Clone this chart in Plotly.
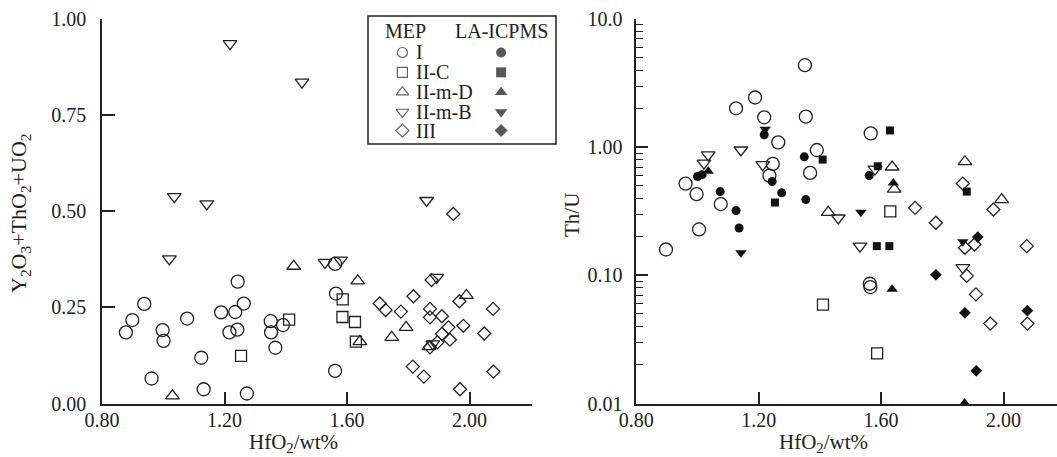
import plotly.graph_objects as go

# ---------------- data: left panel (Y2O3+ThO2+UO2, MEP) ----------------
L_I_hf = [0.878, 0.899, 0.938, 0.962, 0.998, 1.001, 1.078, 1.124, 1.132, 1.189, 1.216, 1.235,
          1.242, 1.243, 1.263, 1.273, 1.351, 1.352, 1.366, 1.391, 1.561, 1.564, 1.561]
L_I_y = [0.185, 0.217, 0.259, 0.065, 0.191, 0.163, 0.221, 0.119, 0.037, 0.237, 0.185, 0.238,
         0.192, 0.317, 0.260, 0.026, 0.214, 0.185, 0.145, 0.204, 0.363, 0.286, 0.085]
L_IIC_hf = [1.254, 1.411, 1.586, 1.585, 1.626, 1.629]
L_IIC_y = [0.124, 0.218, 0.271, 0.225, 0.212, 0.161]
L_IImD_hf = [1.030, 1.426, 1.635, 1.642, 1.746, 1.793, 1.990, 1.868]
L_IImD_y = [0.020, 0.357, 0.319, 0.161, 0.172, 0.198, 0.281, 0.148]
L_IImB_hf = [1.218, 1.453, 1.036, 1.142, 1.860, 1.020, 1.528, 1.579, 1.893, 1.880]
L_IImB_y = [0.936, 0.836, 0.538, 0.519, 0.528, 0.376, 0.367, 0.373, 0.328, 0.155]
L_III_hf = [1.707, 1.726, 1.776, 1.817, 1.815, 1.851, 1.871, 1.871, 1.876, 1.871, 1.910,
            1.910, 1.931, 1.936, 1.969, 1.967, 1.980, 2.048, 2.077, 2.078, 1.947, 1.895]
L_III_y = [0.260, 0.243, 0.239, 0.279, 0.096, 0.070, 0.246, 0.224, 0.321, 0.146, 0.227,
           0.181, 0.198, 0.166, 0.037, 0.266, 0.202, 0.182, 0.246, 0.083, 0.493, 0.159]

# ---------------- data: right panel (Th/U) ----------------
R_I_hf = [1.351, 1.188, 1.126, 1.218, 1.354, 1.264, 1.390, 1.246, 1.235, 1.368, 0.961, 0.997,
          1.076, 0.897, 1.005, 1.566, 1.563, 1.565]
R_I_th = [4.36, 2.44, 2.01, 1.71, 1.73, 1.09, 0.95, 0.74, 0.60, 0.63, 0.52, 0.43,
          0.36, 0.159, 0.228, 1.28, 0.086, 0.081]
R_Ila_hf = [1.218, 1.000, 1.015, 1.074, 1.126, 1.244, 1.275, 1.349, 1.354, 1.136, 1.561]
R_Ila_th = [1.25, 0.59, 0.61, 0.45, 0.32, 0.54, 0.44, 0.84, 0.39, 0.234, 0.60]
R_IIC_hf = [1.630, 1.410, 1.587]
R_IIC_th = [0.316, 0.059, 0.0246]
R_IICla_hf = [1.409, 1.253, 1.629, 1.589, 1.586, 1.627, 1.880]
R_IICla_th = [0.80, 0.37, 1.35, 0.71, 0.169, 0.169, 0.45]
R_IImD_hf = [1.636, 1.643, 1.874, 1.994, 1.427]
R_IImD_th = [0.70, 0.47, 0.77, 0.39, 0.31]
R_IImDla_hf = [1.640, 1.636, 1.873, 1.035]
R_IImDla_th = [0.525, 0.078, 0.0101, 0.65]
R_IImB_hf = [1.035, 1.021, 1.142, 1.213, 1.460, 1.531, 1.867, 1.580]
R_IImB_th = [0.87, 0.75, 0.95, 0.73, 0.28, 0.169, 0.115, 0.675]
R_IImBla_hf = [1.221, 1.142, 1.534, 1.867]
R_IImBla_th = [1.38, 0.150, 0.31, 0.183]
R_III_hf = [1.711, 1.779, 1.867, 1.967, 1.905, 1.874, 2.076, 1.880, 1.910, 1.957, 2.078]
R_III_th = [0.336, 0.257, 0.52, 0.326, 0.174, 0.164, 0.169, 0.099, 0.071, 0.042, 0.042]
R_IIIla_hf = [1.916, 1.779, 1.874, 2.078, 1.911]
R_IIIla_th = [0.199, 0.101, 0.051, 0.053, 0.018]

x_ticks = [0.80, 1.20, 1.60, 2.00]
x_ticktext = ["0.80", "1.20", "1.60", "2.00"]
yl_ticks = [0.0, 0.25, 0.50, 0.75, 1.00]
yl_ticktext = ["0.00", "0.25", "0.50", "0.75", "1.00"]
yr_ticks = [0.01, 0.1, 1, 10]
yr_ticktext = ["0.01", "0.10", "1.00", "10.0"]

group_names = ["I", "II-C", "II-m-D", "II-m-B", "III"]
open_symbols = ["circle-open", "square-open", "triangle-up-open", "triangle-down-open", "diamond-open"]
filled_symbols = ["circle", "square", "triangle-up", "triangle-down", "diamond"]
open_sizes = [13, 11, 12, 12, 10]
filled_sizes = [9, 8, 10, 10, 9]

INK = "#222222"
FONT = "Liberation Serif"
W, H = 1057, 457

left_sets = [(L_I_hf, L_I_y), (L_IIC_hf, L_IIC_y), (L_IImD_hf, L_IImD_y),
             (L_IImB_hf, L_IImB_y), (L_III_hf, L_III_y)]
right_open = [(R_I_hf, R_I_th), (R_IIC_hf, R_IIC_th), (R_IImD_hf, R_IImD_th),
              (R_IImB_hf, R_IImB_th), (R_III_hf, R_III_th)]
right_filled = [(R_Ila_hf, R_Ila_th), (R_IICla_hf, R_IICla_th), (R_IImDla_hf, R_IImDla_th),
                (R_IImBla_hf, R_IImBla_th), (R_IIIla_hf, R_IIIla_th)]

fig = go.Figure()

for i, (xs, ys) in enumerate(left_sets):
    fig.add_trace(go.Scatter(x=xs, y=ys, mode="markers", xaxis="x", yaxis="y",
                             cliponaxis=False, showlegend=False,
                             marker=dict(symbol=open_symbols[i], size=open_sizes[i],
                                         color=INK, line=dict(width=1.3, color=INK))))
for i, (xs, ys) in enumerate(right_open):
    fig.add_trace(go.Scatter(x=xs, y=ys, mode="markers", xaxis="x2", yaxis="y2",
                             cliponaxis=False, showlegend=False,
                             marker=dict(symbol=open_symbols[i], size=open_sizes[i],
                                         color=INK, line=dict(width=1.3, color=INK))))
for i, (xs, ys) in enumerate(right_filled):
    fig.add_trace(go.Scatter(x=xs, y=ys, mode="markers", xaxis="x2", yaxis="y2",
                             cliponaxis=False, showlegend=False,
                             marker=dict(symbol=filled_symbols[i], size=filled_sizes[i],
                                         color="#111111", line=dict(width=0))))

# ---------------- custom legend (box in pixels) ----------------
bx0, bx1, by0, by1 = 368, 556, 16, 144
leg_dom_x = [bx0 / W, bx1 / W]
leg_dom_y = [(H - by1) / H, (H - by0) / H]
row_pos = [0.285, 0.44, 0.595, 0.75, 0.895]
open_x, label_x, filled_x = 0.183, 0.245, 0.708

fig.add_trace(go.Scatter(x=[open_x] * 5, y=row_pos, mode="markers", xaxis="x3", yaxis="y3",
                         cliponaxis=False, showlegend=False,
                         marker=dict(symbol=open_symbols, size=[10, 10, 11, 11, 10], color=INK,
                                     line=dict(width=1.2, color=INK))))
fig.add_trace(go.Scatter(x=[filled_x] * 5, y=row_pos, mode="markers", xaxis="x3", yaxis="y3",
                         cliponaxis=False, showlegend=False,
                         marker=dict(symbol=filled_symbols, size=[10, 10, 11, 11, 10],
                                     color="#111111", line=dict(width=0))))

LEGFONT = dict(family=FONT, size=20, color=INK)
annotations = []
annotations.append(dict(x=0.08, y=0.12, xref="x3", yref="y3", text="MEP", showarrow=False,
                        xanchor="left", yanchor="middle", font=LEGFONT))
annotations.append(dict(x=0.97, y=0.12, xref="x3", yref="y3", text="LA-ICPMS", showarrow=False,
                        xanchor="right", yanchor="middle", font=LEGFONT))
for name, yy in zip(group_names, row_pos):
    annotations.append(dict(x=label_x, y=yy, xref="x3", yref="y3", text=name, showarrow=False,
                            xanchor="left", yanchor="middle", font=LEGFONT))

# axis titles
TFONT = dict(family=FONT, size=21, color=INK)
annotations.append(dict(x=20 / W, y=(H - 213) / H, xref="paper", yref="paper",
                        text="Y<sub>2</sub>O<sub>3</sub>+ThO<sub>2</sub>+UO<sub>2</sub>",
                        textangle=-90, showarrow=False, xanchor="center", yanchor="middle",
                        font=dict(family=FONT, size=22, color=INK)))
annotations.append(dict(x=572 / W, y=(H - 215) / H, xref="paper", yref="paper",
                        text="Th/U", textangle=-90, showarrow=False, xanchor="center",
                        yanchor="middle", font=TFONT))
annotations.append(dict(x=293 / W, y=(H - 443) / H, xref="paper", yref="paper",
                        text="HfO<sub>2</sub>/wt%", showarrow=False, xanchor="center",
                        yanchor="middle", font=TFONT))
annotations.append(dict(x=823 / W, y=(H - 443) / H, xref="paper", yref="paper",
                        text="HfO<sub>2</sub>/wt%", showarrow=False, xanchor="center",
                        yanchor="middle", font=TFONT))

y_dom = [(H - 403.5) / H, (H - 19) / H]
tickfont = dict(family=FONT, size=20, color=INK)
common_x = dict(showline=True, linecolor=INK, linewidth=1.6, ticks="inside", ticklen=12,
                tickwidth=1.5, tickcolor=INK, tickvals=x_ticks, ticktext=x_ticktext,
                tickfont=tickfont, showgrid=False, zeroline=False, mirror=False,
                automargin=False, ticklabelstandoff=-2)

minor_vals = [m * 10 ** e for e in (-2, -1, 0) for m in range(2, 10)]

fig.update_layout(
    template="none",
    width=W, height=H,
    margin=dict(l=0, r=0, t=0, b=0, pad=0, autoexpand=False),
    paper_bgcolor="white", plot_bgcolor="white",
    showlegend=False,
    xaxis=dict(domain=[102 / W, 531.7 / W], range=[0.80, 0.80 + (531.7 - 102) / 306.25],
               anchor="y", **common_x),
    yaxis=dict(domain=y_dom, range=[0, 1.0], anchor="x", showline=True, linecolor=INK,
               linewidth=1.6, ticks="inside", ticklen=13, tickwidth=1.5, tickcolor=INK,
               tickvals=yl_ticks, ticktext=yl_ticktext, tickfont=tickfont,
               ticklabelstandoff=10, showgrid=False, zeroline=False, automargin=False),
    xaxis2=dict(domain=[636.3 / W, 1.0], range=[0.80, 0.80 + (W - 636.3) / 306.0],
                anchor="y2", **common_x),
    yaxis2=dict(domain=y_dom, type="log", range=[-2, 1], anchor="x2", showline=True,
                linecolor=INK, linewidth=1.6, ticks="inside", ticklen=12, tickwidth=1.5,
                tickcolor=INK, tickvals=yr_ticks, ticktext=yr_ticktext, tickfont=tickfont,
                ticklabelstandoff=8, showgrid=False, zeroline=False, automargin=False,
                minor=dict(tickmode="array", tickvals=minor_vals, ticks="inside", ticklen=7,
                           tickwidth=1.3, tickcolor=INK, showgrid=False)),
    xaxis3=dict(domain=leg_dom_x, range=[0, 1], anchor="y3", visible=False, fixedrange=True,
                automargin=False),
    yaxis3=dict(domain=leg_dom_y, range=[1, 0], anchor="x3", visible=False, fixedrange=True,
                automargin=False),
    annotations=annotations,
    shapes=[dict(type="rect", xref="paper", yref="paper", x0=leg_dom_x[0], x1=leg_dom_x[1],
                 y0=leg_dom_y[0], y1=leg_dom_y[1], line=dict(color=INK, width=1.5),
                 fillcolor="rgba(0,0,0,0)")],
)

# remove the default page margin so the figure sits at the window's top-left corner
fig.write_html("out.html", config={"displayModeBar": False},
               post_script="document.body.style.margin='0';document.body.style.overflow='hidden';")
